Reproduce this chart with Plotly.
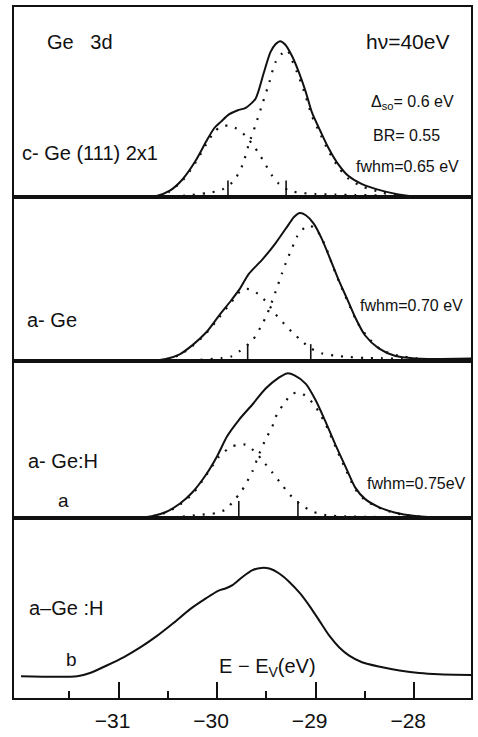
import plotly.graph_objects as go
from plotly.subplots import make_subplots

# ---------------- data (energy E - E_V in eV, intensity in arb. units) ----------------
E_TICKS = [-31, -30, -29, -28]
E_TICK_LABELS = ["−31", "−30", "−29", "−28"]
E_MINOR_TICKS = [-31.5, -30.5, -29.5, -28.5]
E_RANGE = [-32.061, -27.424]

# Panel 1: c-Ge(111)2x1
cge_E = [-32.06, -30.64, -30.48, -30.35, -30.22, -30.11, -30.03, -29.96, -29.88, -29.79,
         -29.71, -29.61, -29.53, -29.46, -29.41, -29.36, -29.31, -29.24, -29.17, -29.10,
         -29.04, -28.95, -28.87, -28.77, -28.67, -28.53, -28.33, -28.09, -27.96, -27.42]
cge_I = [0, 0.5, 6.7, 18.3, 36.7, 56.7, 70, 76.7, 84, 88.3,
         90.7, 100, 125, 147, 155, 158.3, 155, 143.3, 126.7, 106.7,
         86.7, 66.7, 50, 33.3, 21.7, 13.3, 6.7, 1.7, 0, 0]
cge_a_E = [-30.59, -30.48, -30.35, -30.22, -30.11, -30.03, -29.96, -29.88, -29.78, -29.71,
           -29.64, -29.58, -29.51, -29.44, -29.37, -29.27, -29.14, -29.00, -28.80, -28.60,
           -28.33, -28.06, -27.91]
cge_a_I = [0.5, 6, 17, 35, 54, 66, 72, 72.5, 68.5, 62,
           53.5, 45, 33.3, 21.7, 13.3, 6.7, 4.3, 3.3, 2.7, 2.3,
           1.7, 1, 0.5]
cge_b_E = [-30.55, -30.32, -30.10, -29.95, -29.83, -29.74, -29.68, -29.61, -29.54, -29.47,
           -29.41, -29.34, -29.29, -29.24, -29.17, -29.10, -29.04, -28.95, -28.87, -28.77,
           -28.67, -28.53, -28.33, -28.09, -27.76]
cge_b_I = [0, 1.7, 4.3, 7.7, 16.7, 33.3, 53.3, 73.3, 95, 116.7,
           136.7, 146, 149.3, 139, 122, 102, 83, 63.5, 47, 30.5,
           19, 11, 5, 1, 0]
cge_marks = [-29.89, -29.30]

# Panel 2: a-Ge
age_E = [-32.06, -30.69, -30.52, -30.38, -30.25, -30.11, -29.98, -29.86, -29.77, -29.68,
         -29.54, -29.41, -29.27, -29.22, -29.16, -29.10, -29.02, -28.94, -28.85, -28.77,
         -28.68, -28.60, -28.50, -28.36, -28.19, -27.99, -27.86, -27.42]
age_I = [0, 0, 2, 6.7, 16, 29, 46, 61, 73, 88,
         103, 119, 139, 146, 150, 147.7, 139.3, 124.3, 102.7, 82.7,
         62.7, 44.3, 26, 12.7, 5, 2.5, 2, 2.5]
age_a_E = [-30.52, -30.38, -30.25, -30.11, -29.98, -29.86, -29.77, -29.70, -29.65, -29.56,
           -29.47, -29.41, -29.32, -29.24, -29.15, -29.05, -28.94, -28.80, -28.67, -28.50,
           -28.33, -28.13, -27.86]
age_a_I = [1.5, 6, 15, 28, 44, 59, 70, 73, 72, 66,
           56, 47.7, 37.7, 29.3, 21, 12.7, 7.7, 5.3, 4, 3,
           2.7, 2, 1.5]
age_b_E = [-30.37, -30.18, -29.96, -29.86, -29.78, -29.64, -29.54, -29.49, -29.44, -29.39,
           -29.34, -29.29, -29.24, -29.19, -29.14, -29.07, -28.99, -28.90, -28.82, -28.73,
           -28.65, -28.57, -28.46, -28.33, -28.16, -27.99, -27.76]
age_b_I = [0.3, 1, 2.7, 4.3, 9.3, 21, 37.7, 48, 61, 75,
           89.3, 102.7, 114.3, 126, 132.7, 137.7, 132.7, 116, 94.3, 72.7,
           54.3, 37.7, 22.7, 11, 5.3, 2.7, 1]
age_marks = [-29.69, -29.05]

# Panel 3: a-Ge:H (a)
ageh_E = [-32.06, -30.79, -30.65, -30.52, -30.38, -30.25, -30.11, -30.00, -29.90, -29.78,
          -29.64, -29.51, -29.37, -29.29, -29.21, -29.10, -29.00, -28.90, -28.80, -28.70,
          -28.60, -28.50, -28.36, -28.19, -27.99, -27.86, -27.42]
ageh_I = [0, 0, 1.7, 5.7, 14, 25.7, 44, 62.3, 82.3, 99,
          115, 130.7, 142.3, 146.3, 144, 135.7, 119, 97.3, 74, 52.3,
          30.7, 19, 10.7, 5, 1.7, 0.7, 0]
ageh_a_E = [-30.65, -30.52, -30.38, -30.25, -30.11, -29.98, -29.86, -29.78, -29.71, -29.61,
            -29.54, -29.44, -29.34, -29.26, -29.14, -29.02, -28.89, -28.70, -28.43, -28.09]
ageh_a_I = [1.5, 5, 13, 24, 43, 62, 71.7, 74, 74, 66.3,
            58, 45.7, 33, 23, 12.3, 5.7, 2.3, 1.3, 0.7, 0.3]
ageh_b_E = [-30.55, -30.42, -30.28, -30.15, -30.01, -29.91, -29.83, -29.76, -29.71, -29.64,
            -29.58, -29.51, -29.44, -29.39, -29.32, -29.24, -29.15, -29.07, -29.00, -28.95,
            -28.90, -28.80, -28.70, -28.60, -28.50, -28.36, -28.19, -27.99, -27.86]
ageh_b_I = [0, 0.3, 1.7, 3, 4.7, 8.3, 17.3, 25.7, 34, 47.3,
            63, 79, 92.3, 105.7, 115.7, 125.7, 126.3, 120.7, 112.3, 104,
            95, 72, 50, 29, 18, 10, 4.5, 1.5, 0.5]
ageh_marks = [-29.78, -29.18]

# Panel 4: a-Ge:H (b)
agehb_E = [-31.99, -31.42, -31.29, -31.12, -30.95, -30.78, -30.61, -30.44, -30.28, -30.11,
           -29.99, -29.91, -29.84, -29.74, -29.64, -29.55, -29.47, -29.37, -29.27, -29.16,
           -29.06, -28.96, -28.86, -28.76, -28.66, -28.53, -28.36, -28.15, -27.95, -27.75, -27.41]
agehb_I = [0, 0, 3.3, 11, 19.3, 29.3, 41, 54.3, 67.7, 79.3,
           86.7, 89.3, 92.7, 101, 107.7, 110, 109.3, 104.3, 96, 84.3,
           71, 56, 41, 29.3, 21, 14.3, 10, 6, 3.3, 2, 1.3]

# ---------------- layout geometry ----------------
W, H = 478, 737
L, R, T, B = 14, 5, 7, 29
PW, PH = W - L - R, H - T - B
panel_px = [193, 166, 159, 183]          # panel heights, top to bottom
y_ranges = [[0, 193], [0, 166], [0, 159], [-22, 161]]

FONT = "Liberation Sans, Arial, sans-serif"
INK = "#111111"

fig = make_subplots(rows=4, cols=1, shared_xaxes=True, vertical_spacing=0,
                    row_heights=panel_px)

def add_panel(row, E, I, comps=(), marks=None):
    for cE, cI in comps:
        fig.add_trace(go.Scatter(x=cE, y=cI, mode="lines",
                                 line=dict(color=INK, width=2.2, dash="2px,8px",
                                           shape="spline", smoothing=0.7),
                                 hoverinfo="skip", showlegend=False), row=row, col=1)
    fig.add_trace(go.Scatter(x=E, y=I, mode="lines",
                             line=dict(color=INK, width=2, shape="spline", smoothing=0.7),
                             showlegend=False), row=row, col=1)
    if marks:
        fig.add_trace(go.Scatter(x=marks, y=[7] * len(marks), mode="markers",
                                 marker=dict(symbol="line-ns", size=14,
                                             line=dict(color=INK, width=1.6)),
                                 hoverinfo="skip", showlegend=False), row=row, col=1)

add_panel(1, cge_E, cge_I, [(cge_a_E, cge_a_I), (cge_b_E, cge_b_I)], cge_marks)
add_panel(2, age_E, age_I, [(age_a_E, age_a_I), (age_b_E, age_b_I)], age_marks)
add_panel(3, ageh_E, ageh_I, [(ageh_a_E, ageh_a_I), (ageh_b_E, ageh_b_I)], ageh_marks)
add_panel(4, agehb_E, agehb_I)

for r in range(1, 5):
    fig.update_xaxes(row=r, col=1, range=E_RANGE, showline=True, linecolor=INK,
                     linewidth=1.6, mirror=True, showgrid=False, zeroline=False,
                     showticklabels=False, ticks="")
    fig.update_yaxes(row=r, col=1, range=y_ranges[r - 1], showline=True, linecolor=INK,
                     linewidth=1.6, mirror=True, showgrid=False, zeroline=False,
                     showticklabels=False, ticks="")

fig.update_xaxes(row=4, col=1, tickmode="array", tickvals=E_TICKS, ticktext=E_TICK_LABELS,
                 ticks="inside", ticklen=16, tickwidth=1.5, tickcolor=INK,
                 showticklabels=True, ticklabelshift=-6, ticklabelstandoff=3,
                 tickfont=dict(family=FONT, size=21, color=INK),
                 minor=dict(tickmode="array", tickvals=E_MINOR_TICKS, ticks="inside",
                            ticklen=7, tickwidth=1.5, tickcolor=INK))

def px(xp):
    return (xp - L) / PW

def py(yp):
    return (H - B - yp) / PH

def txt(text, x, y, size, anchor="left"):
    fig.add_annotation(text=text, x=px(x), y=py(y), xref="paper", yref="paper",
                       xanchor=anchor, yanchor="middle", showarrow=False,
                       font=dict(family=FONT, size=size, color=INK))

txt("Ge   3d", 45, 42, 20)
txt("hν=40eV", 454, 42, 21, "right")
txt("Δ<sub>so</sub>= 0.6 eV", 458, 104, 16, "right")
txt("BR= 0.55", 444, 137, 16, "right")
txt("fwhm=0.65 eV", 463, 169, 16, "right")
txt("c- Ge (111) 2x1", 20, 155, 20)
txt("a- Ge", 25, 325, 20)
txt("fwhm=0.70 eV", 467, 310, 16, "right")
txt("a- Ge:H", 26, 468, 20)
txt("a", 56, 508, 19)
txt("fwhm=0.75eV", 470, 490, 16, "right")
txt("a–Ge :H", 27, 617, 20)
txt("b", 64, 669, 19)
txt("E − E<sub>V</sub>(eV)", 269, 677, 20, "center")

fig.update_layout(width=W, height=H, margin=dict(l=L, r=R, t=T, b=B),
                  paper_bgcolor="white", plot_bgcolor="white",
                  font=dict(family=FONT, color=INK), showlegend=False)

fig.write_html("out.html", config={"displayModeBar": False},
               post_script="document.body.style.margin='0px';"
                           "document.body.style.overflow='hidden';")
